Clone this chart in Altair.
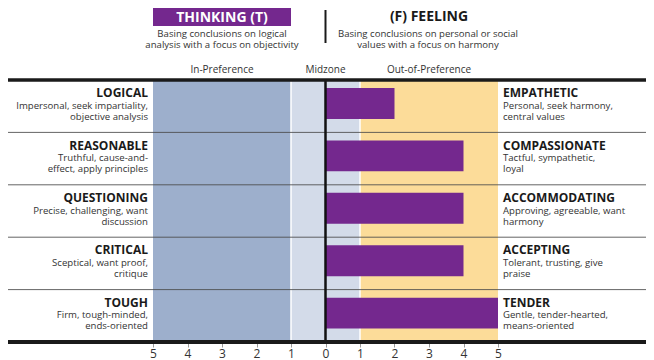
import altair as alt
import pandas as pd

# ---- data ----
left_titles = ["LOGICAL", "REASONABLE", "QUESTIONING", "CRITICAL", "TOUGH"]
left_desc1 = ["Impersonal, seek impartiality,", "Truthful, cause-and-", "Precise, challenging, want",
              "Sceptical, want proof,", "Firm, tough-minded,"]
left_desc2 = ["objective analysis", "effect, apply principles", "discussion", "critique", "ends-oriented"]
right_titles = ["EMPATHETIC", "COMPASSIONATE", "ACCOMMODATING", "ACCEPTING", "TENDER"]
right_desc1 = ["Personal, seek harmony,", "Tactful, sympathetic,", "Approving, agreeable, want",
               "Tolerant, trusting, give", "Gentle, tender-hearted,"]
right_desc2 = ["central values", "loyal", "harmony", "praise", "means-oriented"]
scores = [2, 4, 4, 4, 5]

zone_names = ["In-Preference", "Midzone", "Out-of-Preference"]
zone_start = [-5, -1, 1]
zone_end = [-1, 1, 5]
zone_label_x = [-3, 0, 3]
zone_colors = ["#9DAFCC", "#D3DBE9", "#FCDC99"]

tick_values = list(range(-5, 6))

left_header = "THINKING (T)"
left_sub = ["Basing conclusions on logical", "analysis with a focus on objectivity"]
right_header = "(F) FEELING"
right_sub = ["Basing conclusions on personal or social", "values with a focus on harmony"]

FONT = "Open Sans"
PURPLE = "#74288E"

rows = pd.DataFrame({
    "trait": left_titles,
    "ld1": left_desc1, "ld2": left_desc2,
    "rt": right_titles, "rd1": right_desc1, "rd2": right_desc2,
    "score": scores,
})
zones = pd.DataFrame({"zone": zone_names, "start": zone_start, "end": zone_end,
                      "lx": zone_label_x})

xscale = alt.Scale(domain=[-5, 5], nice=False, zero=False)
xaxis = alt.Axis(values=tick_values, labelExpr="abs(datum.value)", domain=False, grid=False,
                 ticks=True, tickColor="#999999", tickSize=5, labelFontSize=12,
                 labelColor="#333333", labelPadding=1, labelFont=FONT, title=None,
                 labelOverlap=False, labelFlush=False, labelBound=False)
yscale = alt.Scale(domain=left_titles, paddingInner=0, paddingOuter=0)


def X(field):
    return alt.X(field, scale=xscale, axis=xaxis)


def Y(**kw):
    return alt.Y("trait:N", scale=yscale, axis=None, **kw)


bg = alt.Chart(zones).mark_rect().encode(
    x=X("start:Q"),
    x2="end:Q",
    color=alt.Color("zone:N", scale=alt.Scale(domain=zone_names, range=zone_colors), legend=None),
)

white_lines = alt.Chart(pd.DataFrame({"v": [-1, 1]})).mark_rule(color="white", strokeWidth=1.5).encode(
    x=X("v:Q")
)

separators = alt.Chart(rows.iloc[1:]).mark_rule(color="#4a4a4a", strokeWidth=1, opacity=0.85).encode(
    y=Y(bandPosition=0), x=alt.value(-145), x2=alt.value(493)
)

bars = alt.Chart(rows).mark_bar(color=PURPLE, height={"band": 0.59}, yOffset=-2.7).encode(
    x=X("score:Q"), y=Y()
)

zero_line = alt.Chart(pd.DataFrame({"v": [0]})).mark_rule(color="#111111", strokeWidth=2.5).encode(
    x=X("v:Q")
)

top_line = alt.Chart(rows.iloc[:1]).mark_rule(color="#1a1a1a", strokeWidth=3.5).encode(
    y=Y(bandPosition=0), x=alt.value(-145), x2=alt.value(493)
)
bottom_line = alt.Chart(rows.iloc[-1:]).mark_rule(color="#1a1a1a", strokeWidth=4).encode(
    y=Y(bandPosition=1), x=alt.value(-145), x2=alt.value(493)
)


def txt(field, align, xpx, dy, bold=False, size=9.6, color="#333333"):
    return alt.Chart(rows).mark_text(
        align=align, baseline="alphabetic", dy=dy, font=FONT, fontSize=size,
        fontWeight="bold" if bold else "normal", color=color
    ).encode(x=alt.value(xpx), y=Y(), text=f"{field}:N")


left_t = txt("trait", "right", -5, -9, bold=True, size=12, color="#1a1a1a")
left_1 = txt("ld1", "right", -5, 2.5)
left_2 = txt("ld2", "right", -5, 13.5)
right_t = txt("rt", "left", 350, -9, bold=True, size=12, color="#1a1a1a")
right_1 = txt("rd1", "left", 350, 2.5)
right_2 = txt("rd2", "left", 350, 13.5)

zone_labels = alt.Chart(zones).mark_text(
    baseline="alphabetic", font=FONT, fontSize=10, color="#333333"
).encode(x=X("lx:Q"), y=alt.value(-7), text="zone:N")

# header
hdr = pd.DataFrame({"x1": [-5], "x2": [-1], "cx": [-3]})
hdr_box = alt.Chart(hdr).mark_rect(color=PURPLE).encode(
    x=X("x1:Q"), x2="x2:Q", y=alt.value(-72), y2=alt.value(-54)
)
hdr_left = alt.Chart(pd.DataFrame({"x": [-3], "t": [left_header]})).mark_text(
    baseline="alphabetic", font=FONT, fontSize=14, fontWeight="bold", color="white"
).encode(x=X("x:Q"), y=alt.value(-58), text="t:N")
hdr_right = alt.Chart(pd.DataFrame({"x": [3], "t": [right_header]})).mark_text(
    baseline="alphabetic", font=FONT, fontSize=14, fontWeight="bold", color="#1a1a1a"
).encode(x=X("x:Q"), y=alt.value(-59), text="t:N")


def sub_layer(line, xpos, ypx):
    df = pd.DataFrame({"x": [xpos], "t": [line]})
    return alt.Chart(df).mark_text(
        baseline="alphabetic", font=FONT, fontSize=9.6, color="#333333"
    ).encode(x=X("x:Q"), y=alt.value(ypx), text="t:N")


subs = [
    sub_layer(left_sub[0], -3, -43), sub_layer(left_sub[1], -3, -32),
    sub_layer(right_sub[0], 2.97, -43), sub_layer(right_sub[1], 2.97, -32),
]
hdr_div = alt.Chart(pd.DataFrame({"v": [0]})).mark_rule(color="#1a1a1a", strokeWidth=2).encode(
    x=X("v:Q"), y=alt.value(-70), y2=alt.value(-37)
)

chart = alt.layer(
    bg, white_lines, separators, bars, zero_line, top_line, bottom_line,
    left_t, left_1, left_2, right_t, right_1, right_2,
    zone_labels, hdr_box, hdr_left, hdr_right, *subs, hdr_div,
).properties(
    width=345, height=262,
    autosize=alt.AutoSizeParams(type="none"),
    padding={"left": 145, "top": 72, "right": 148, "bottom": 20},
    background="white",
).configure_view(stroke=None).configure_axisX(labelOverlap=False)

chart.save("out.html", embed_options={"renderer": "svg", "actions": False})
